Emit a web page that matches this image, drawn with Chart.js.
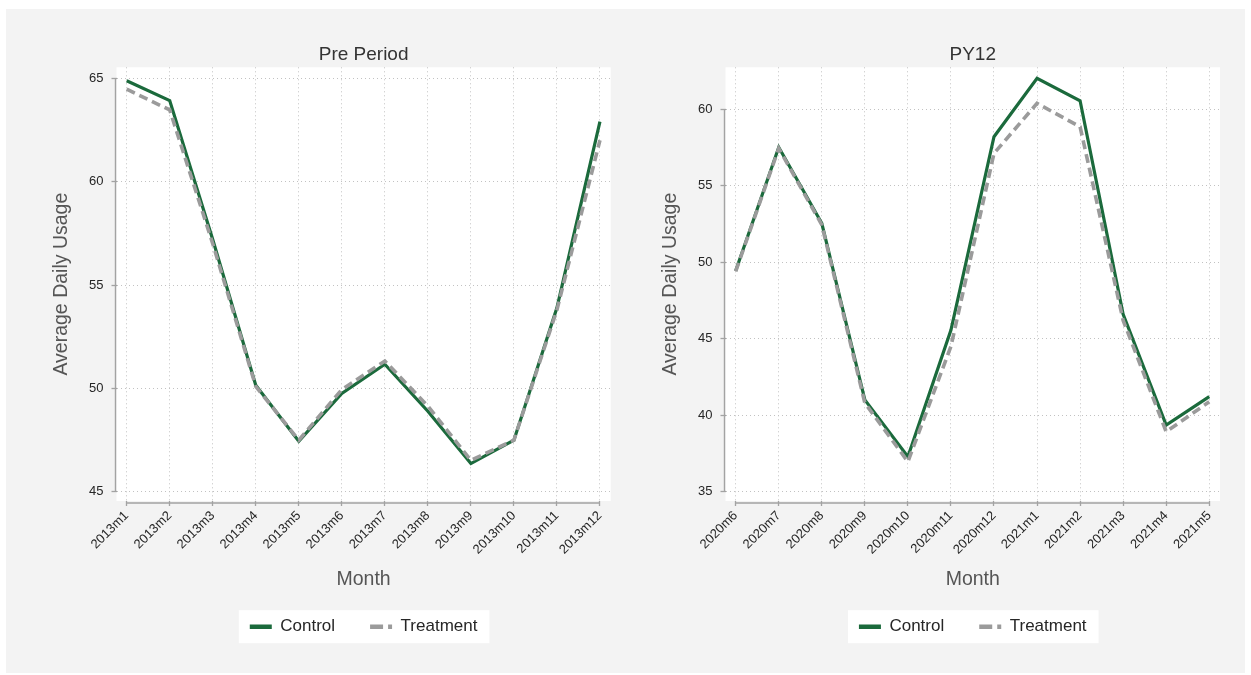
<!DOCTYPE html>
<html lang="en">

<head>
    <meta charset="UTF-8">
    <title>Average Daily Usage: Control vs Treatment</title>
    <script src="https://cdn.jsdelivr.net/npm/chart.js"></script>

    <style>
        body {
            margin: 0;
            width: 1251px;
            height: 675px;
            overflow: hidden;
            background: #ffffff;
            position: relative;
        }

        #panel {
            position: absolute;
            left: 6px;
            top: 9px;
            width: 1239px;
            height: 664px;
            background: #f3f3f3;
        }

        .chart-box {
            position: absolute;
            top: 0;
        }
    </style>
</head>

<body>
    <div id="panel"></div>
    <div class="chart-box" style="left: 0;">
        <canvas id="preChart" width="625" height="675"></canvas>
    </div>
    <div class="chart-box" style="left: 625px;">
        <canvas id="pyChart" width="626" height="675"></canvas>
    </div>

    <script>
        // Pre period (calendar 2013)
        const preMonths = ['2013m1', '2013m2', '2013m3', '2013m4', '2013m5', '2013m6',
            '2013m7', '2013m8', '2013m9', '2013m10', '2013m11', '2013m12'];
        const preControl = [64.88, 63.92, 57.2, 50.16, 47.45, 49.76, 51.17, 48.9, 46.37, 47.5, 53.9, 62.9];
        const preTreatment = [64.47, 63.47, 57.0, 50.1, 47.5, 49.95, 51.33, 49.15, 46.53, 47.5, 53.8, 62.0];
        const preTicks = [45, 50, 55, 60, 65];

        // Program year 12 (June 2020 - May 2021)
        const pyMonths = ['2020m6', '2020m7', '2020m8', '2020m9', '2020m10', '2020m11',
            '2020m12', '2021m1', '2021m2', '2021m3', '2021m4', '2021m5'];
        const pyControl = [49.45, 57.52, 52.55, 41.0, 37.29, 45.57, 58.21, 62.03, 60.56, 46.6, 39.36, 41.21];
        const pyTreatment = [49.4, 57.45, 52.45, 40.8, 36.96, 44.5, 57.12, 60.39, 58.86, 46.2, 38.92, 40.88];
        const pyTicks = [35, 40, 45, 50, 55, 60];

        const GREEN = '#1b6a3c';
        const GREY = '#9b9b9b';
        const AXIS = '#a3a3a3';
        const GRID = '#c2c2c2';

        Chart.defaults.font.family = "'Liberation Sans', Arial, sans-serif";

        // white plot region, white legend box and Stata-style axis lines (first to last tick only)
        const plotFrame = {
            id: 'plotFrame',
            beforeDraw(chart) {
                const { ctx, chartArea: a, legend } = chart;
                ctx.save();
                ctx.fillStyle = '#ffffff';
                ctx.fillRect(a.left, a.top, a.right - a.left, a.bottom - a.top);
                const boxes = legend.legendHitBoxes;
                if (boxes && boxes.length) {
                    const first = boxes[0];
                    const last = boxes[boxes.length - 1];
                    const cy = first.top + first.height / 2;
                    const left = first.left - 11;
                    ctx.fillRect(left, cy - 16.5, last.left + last.width + 12 - left, 33);
                }
                ctx.restore();
            },
            beforeDatasetsDraw(chart) {
                const { ctx, chartArea: a, scales: { x, y } } = chart;
                const xt = x.ticks, yt = y.ticks;
                ctx.save();
                ctx.strokeStyle = AXIS;
                ctx.lineWidth = 1.4;
                ctx.beginPath();
                ctx.moveTo(a.left - 1, y.getPixelForValue(yt[0].value));
                ctx.lineTo(a.left - 1, y.getPixelForValue(yt[yt.length - 1].value));
                ctx.moveTo(x.getPixelForValue(xt[0].value), a.bottom + 2);
                ctx.lineTo(x.getPixelForValue(xt[xt.length - 1].value), a.bottom + 2);
                ctx.stroke();
                ctx.restore();
            }
        };

        // legend keys: thick line samples, the treatment key keeps its dashes
        function legendLabels(chart) {
            const base = Chart.defaults.plugins.legend.labels.generateLabels(chart);
            return base.map(item => {
                const ds = chart.data.datasets[item.datasetIndex];
                return Object.assign(item, {
                    lineWidth: 4.5,
                    lineDash: ds.borderDash ? [13, 5] : [],
                    strokeStyle: ds.borderColor
                });
            });
        }

        function buildChart(canvasId, cfg) {
            return new Chart(document.getElementById(canvasId), {
                type: 'line',
                data: {
                    labels: cfg.months.map((m, i) => i),
                    datasets: [
                        {
                            label: 'Control',
                            data: cfg.control,
                            borderColor: GREEN,
                            backgroundColor: GREEN,
                            borderWidth: 3.2,
                            pointRadius: 0,
                            tension: 0,
                            order: 1
                        },
                        {
                            label: 'Treatment',
                            data: cfg.treatment,
                            borderColor: GREY,
                            backgroundColor: GREY,
                            borderWidth: 3.6,
                            borderDash: [9, 5],
                            pointRadius: 0,
                            tension: 0,
                            order: 0
                        }
                    ]
                },
                options: {
                    responsive: false,
                    animation: false,
                    events: [],
                    layout: {
                        padding: { left: 0, right: cfg.padRight, top: 0, bottom: 29.8 }
                    },
                    plugins: {
                        title: {
                            display: true,
                            text: cfg.title,
                            fullSize: false,
                            color: '#333333',
                            font: { size: 19, weight: 'normal', lineHeight: 1.2 },
                            padding: { top: 42.9, bottom: 1.6 }
                        },
                        legend: {
                            position: 'bottom',
                            fullSize: false,
                            labels: {
                                usePointStyle: true,
                                pointStyle: 'line',
                                pointStyleWidth: 22,
                                padding: 35,
                                color: '#262626',
                                font: { size: 17 },
                                generateLabels: legendLabels,
                                sort: (a, b) => a.datasetIndex - b.datasetIndex
                            }
                        },
                        tooltip: { enabled: false }
                    },
                    scales: {
                        x: {
                            type: 'linear',
                            min: -0.237,
                            max: 11.25,
                            afterFit: s => { s.height = 82.2; },
                            afterBuildTicks: s => { s.ticks = cfg.months.map((m, i) => ({ value: i })); },
                            ticks: {
                                callback: v => cfg.months[v],
                                autoSkip: false,
                                minRotation: 45,
                                maxRotation: 45,
                                padding: 2,
                                color: '#262626',
                                font: { size: 13 }
                            },
                            grid: {
                                color: GRID,
                                lineWidth: 1,
                                tickLength: 5,
                                tickColor: AXIS,
                                tickWidth: 1.3,
                                tickBorderDash: []
                            },
                            border: { display: false, dash: [1, 3] },
                            title: {
                                display: true,
                                text: 'Month',
                                color: '#555555',
                                font: { size: 19.5, lineHeight: 1.2 },
                                padding: { top: 0, bottom: -7.7 }
                            }
                        },
                        y: {
                            min: cfg.yMin,
                            max: cfg.yMax,
                            afterFit: s => { s.width = cfg.axisWidth; },
                            afterBuildTicks: s => { s.ticks = cfg.yTicks.map(v => ({ value: v })); },
                            ticks: {
                                padding: 8,
                                color: '#262626',
                                font: { size: 13 }
                            },
                            grid: {
                                color: GRID,
                                lineWidth: 1,
                                tickLength: 5,
                                tickColor: AXIS,
                                tickWidth: 1.3,
                                tickBorderDash: []
                            },
                            border: { display: false, dash: [1, 3] },
                            title: {
                                display: true,
                                text: 'Average Daily Usage',
                                color: '#555555',
                                font: { size: 19.5, lineHeight: 1.2 },
                                padding: { top: cfg.yTitleGap, bottom: 0 }
                            }
                        }
                    }
                },
                plugins: [plotFrame]
            });
        }

        buildChart('preChart', {
            title: 'Pre Period',
            months: preMonths,
            control: preControl,
            treatment: preTreatment,
            yTicks: preTicks,
            yMin: 44.56,
            yMax: 65.53,
            axisWidth: 116.5,
            padRight: 14.3,
            yTitleGap: 49.5
        });

        buildChart('pyChart', {
            title: 'PY12',
            months: pyMonths,
            control: pyControl,
            treatment: pyTreatment,
            yTicks: pyTicks,
            yMin: 34.39,
            yMax: 62.75,
            axisWidth: 100.5,
            padRight: 31,
            yTitleGap: 34
        });
    </script>
</body>

</html>
